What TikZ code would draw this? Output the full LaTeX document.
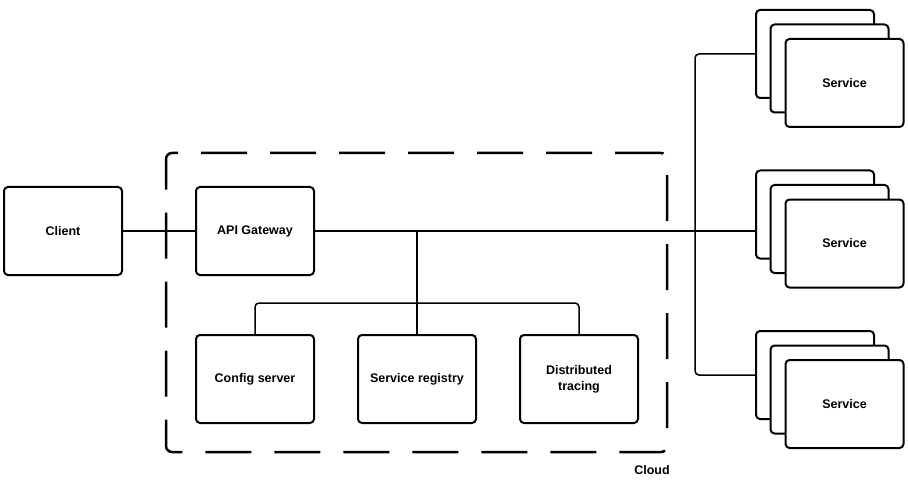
\documentclass[tikz,border=0pt]{standalone}
\usepackage{fontspec}
\setmainfont{Liberation Sans}
\begin{document}
\begin{tikzpicture}[x=1pt,y=-1pt,
  box/.style={draw=black,line width=2pt,rounded corners=4pt,fill=white,minimum width=118pt,minimum height=88pt,inner sep=0pt,align=center,font=\fontsize{12.5}{15}\selectfont\bfseries},
  cloudbox/.style={draw=black,line width=2.5pt,rounded corners=6pt,dash pattern=on 46pt off 23pt,minimum width=501pt,minimum height=299pt,inner sep=0pt},
  link/.style={draw=black,line width=1.5pt},
  lbl/.style={font=\fontsize{12.5}{15}\selectfont\bfseries,inner sep=0pt}]
\useasboundingbox (0,0) rectangle (908,484);
% cloud container
\node[cloudbox] (cloud) at (416.5,302.5) {};
\node[lbl] (cloudlbl) at (652,470) {Cloud};
% main boxes
\node[box] (client) at (63,231) {Client};
\node[box] (gw) at (255,231) {API Gateway};
\node[box] (cfg) at (255,379) {Config server};
\node[box] (reg) at (417,379) {Service registry};
\node[box] (dt) at (579,379) {Distributed\\[1pt]tracing};
% service stacks
\foreach \i/\y in {1/54,2/214.5,3/375}{
  \node[box] (s\i b) at (815,\y) {};
  \node[box] (s\i m) at (829.5,\y+14.5) {};
  \node[box] (s\i f) at (844.5,\y+29) {Service};
}
% connectors
\coordinate (bus) at (695,231);
\coordinate (t) at (417,231);
\coordinate (j) at (417,303);
\draw[link] (client.east) -- (gw.west);
\draw[link] (gw.east) -- (gw.east -| s2b.west);
\draw[link,rounded corners=4pt] (bus) |- (s1b.west);
\draw[link,rounded corners=4pt] (bus) |- (s3b.west);
\draw[link] (t) -- (reg.north);
\draw[link,rounded corners=4pt] (cfg.north) |- (j) -| (dt.north);
\end{tikzpicture}
\end{document}
